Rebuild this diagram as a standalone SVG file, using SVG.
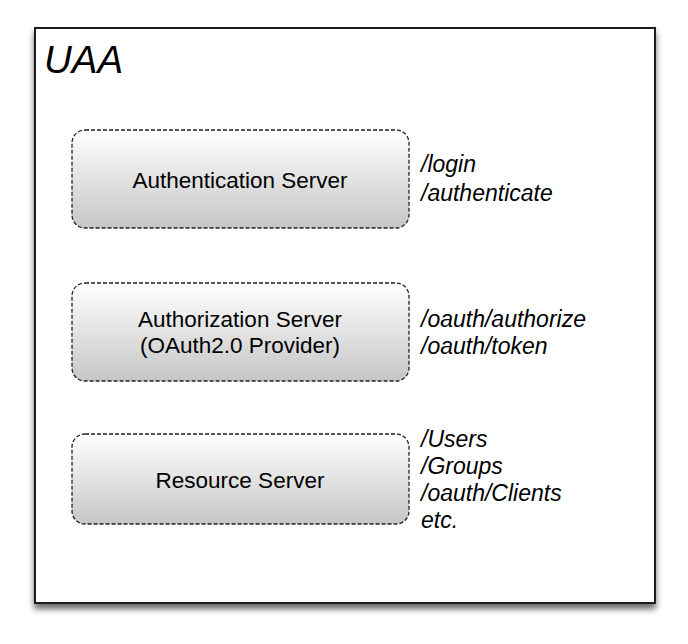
<svg xmlns="http://www.w3.org/2000/svg" width="688" height="644" viewBox="0 0 688 644">
<style>
text{font-family:"Liberation Sans",Arial,sans-serif;fill:#000}
.node{fill:url(#g);stroke:#222;stroke-width:1.3;stroke-dasharray:4 2}
.lbl{font-size:22.5px;text-anchor:middle}
.ep{font-size:23px;font-style:italic}
</style>
<defs>
<linearGradient id="g" x1="0" y1="0" x2="0" y2="1">
<stop offset="0" stop-color="#ffffff"/>
<stop offset="1" stop-color="#c6c6c6"/>
</linearGradient>
<filter id="sh" x="-10%" y="-10%" width="120%" height="120%">
<feGaussianBlur in="SourceAlpha" stdDeviation="3"/>
<feOffset dx="0" dy="5"/>
<feComponentTransfer><feFuncA type="linear" slope="0.6"/></feComponentTransfer>
<feMerge><feMergeNode/><feMergeNode in="SourceGraphic"/></feMerge>
</filter>
</defs>
<rect width="688" height="644" fill="#fff"/>
<g id="uaa">
<rect x="35" y="28" width="620" height="575" fill="#fff" stroke="#1a1a1a" stroke-width="2" filter="url(#sh)"/>
<text x="44" y="73" style="font-size:38.5px;font-style:italic">UAA</text>
</g>
<g id="authn">
<rect class="node" x="72" y="130" width="337" height="98" rx="13"/>
<text class="lbl" x="240" y="188">Authentication Server</text>
<text class="ep" x="421" y="172">/login</text>
<text class="ep" x="421" y="201">/authenticate</text>
</g>
<g id="authz">
<rect class="node" x="72" y="283" width="337" height="98" rx="13"/>
<text class="lbl" x="240" y="327">Authorization Server</text>
<text class="lbl" x="240" y="353">(OAuth2.0 Provider)</text>
<text class="ep" x="421" y="327">/oauth/authorize</text>
<text class="ep" x="421" y="354">/oauth/token</text>
</g>
<g id="resource">
<rect class="node" x="72" y="434" width="337" height="90" rx="13"/>
<text class="lbl" x="240" y="488">Resource Server</text>
<text class="ep" x="421" y="447">/Users</text>
<text class="ep" x="421" y="474">/Groups</text>
<text class="ep" x="421" y="501">/oauth/Clients</text>
<text class="ep" x="421" y="528">etc.</text>
</g>
<g id="connectors"></g>
</svg>
